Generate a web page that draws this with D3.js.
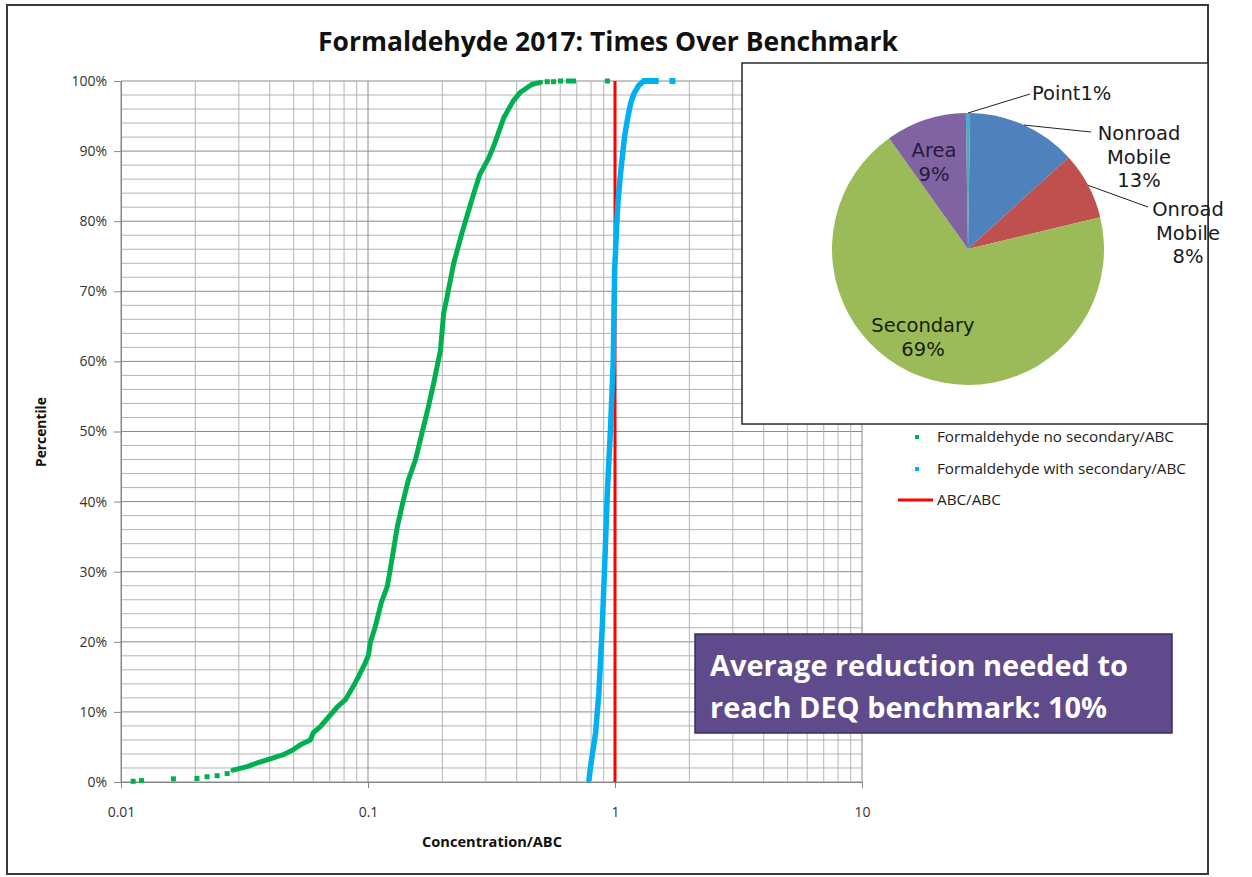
<!DOCTYPE html>
<html><head><meta charset="utf-8">
<script src="https://cdn.jsdelivr.net/npm/d3@7"></script>
<style>
html,body{margin:0;padding:0;background:#fff;}
svg{display:block;font-family:"Open Sans",sans-serif;}
</style></head><body>
<svg id="c" width="1252" height="877"></svg>
<script>
// ---------- data ----------
const titleText = "Formaldehyde 2017: Times Over Benchmark";
const xTitle = "Concentration/ABC";
const yTitle = "Percentile";
const xTickValues = [0.01, 0.1, 1, 10];
const xTickLabels = ["0.01", "0.1", "1", "10"];
const yTickValues = [0, 10, 20, 30, 40, 50, 60, 70, 80, 90, 100];
const yTickLabels = ["0%", "10%", "20%", "30%", "40%", "50%", "60%", "70%", "80%", "90%", "100%"];

// Formaldehyde no secondary/ABC (green) - low tail (separate dots)
const greenTailX = [0.0112, 0.0121, 0.0163, 0.0203, 0.0223, 0.0245, 0.0269];
const greenTailP = [0.1, 0.2, 0.45, 0.5, 0.75, 0.9, 1.2];
// main continuous body
const greenX = [0.0284, 0.0324, 0.0359, 0.0402, 0.0454, 0.0498, 0.0532, 0.0584, 0.0600, 0.0641,
  0.0690, 0.0751, 0.0809, 0.0864, 0.0914, 0.0975, 0.1003, 0.1022, 0.1071, 0.1132,
  0.1197, 0.1240, 0.1314, 0.1390, 0.1457, 0.1555, 0.1629, 0.1755, 0.1845, 0.1965,
  0.2025, 0.2090, 0.2223, 0.2400, 0.2640, 0.2830, 0.3080, 0.3250, 0.3550, 0.3880,
  0.4143, 0.4600, 0.4994];
const greenP = [1.7, 2.2, 2.75, 3.3, 3.9, 4.6, 5.3, 6.0, 7.0, 7.9,
  9.2, 10.7, 11.7, 13.4, 15.0, 17.0, 18.0, 19.9, 22.2, 25.6,
  27.9, 31.0, 36.4, 40.2, 43.1, 45.9, 48.8, 53.5, 56.9, 61.6,
  66.9, 69.2, 74.0, 78.3, 83.2, 86.6, 89.0, 91.0, 94.8, 97.2,
  98.4, 99.5, 99.8];
// top outliers
const greenTopX = [0.5316, 0.5638, 0.6019, 0.6484, 0.6795, 0.931];
const greenTopP = [99.9, 99.9, 100, 100, 100, 100];

// Formaldehyde with secondary/ABC (blue)
const blueX = [0.7839, 0.8037, 0.8344, 0.8604, 0.8882, 0.9101, 0.9307, 0.9598, 0.9843, 0.9963,
  1.0056, 1.0150, 1.0275, 1.0469, 1.0706, 1.0937, 1.1215, 1.1567, 1.1929, 1.2500, 1.2900];
const blueP = [0.3, 3.2, 7.0, 12.7, 22.2, 31.7, 41.2, 50.7, 60.2, 73.0,
  75.9, 79.2, 82.6, 85.9, 89.2, 92.1, 94.4, 96.8, 98.2, 99.4, 99.8];
const blueTopX = [1.32, 1.368, 1.41, 1.461, 1.708];
const blueTopP = [100, 100, 100, 100, 100];

// ABC/ABC benchmark
const benchX = [1, 1];
const benchP = [0, 100];

const legendLabels = ["Formaldehyde no secondary/ABC", "Formaldehyde with secondary/ABC", "ABC/ABC"];
const seriesColors = ["#00B050", "#00B0F0", "#FF0000"];

// inset pie
const pieCategories = ["Point", "Nonroad Mobile", "Onroad Mobile", "Secondary", "Area"];
const pieValues = [0.5, 13.0, 8.0, 68.9, 9.6];
const pieLabelLines = [["Point1%"], ["Nonroad", "Mobile", "13%"], ["Onroad", "Mobile", "8%"], ["Secondary", "69%"], ["Area", "9%"]];
const pieColors = ["#4BACC6", "#4F81BD", "#C0504D", "#9BBB59", "#8064A2"];

const noteLines = ["Average reduction needed to", "reach DEQ benchmark: 10%"];

// ---------- drawing ----------
const svg = d3.select("#c");
function fit(sel, w) {
  const cur = sel.node().getComputedTextLength();
  const fs = parseFloat(sel.attr("font-size"));
  sel.attr("font-size", (fs * w / cur).toFixed(2));
}

svg.append("rect").attr("x", 0).attr("y", 0).attr("width", 1252).attr("height", 877).attr("fill", "#fff");
// outer frame
svg.append("rect").attr("x", 7).attr("y", 5).attr("width", 1201).attr("height", 869)
  .attr("fill", "#fff").attr("stroke", "#3a3a3a").attr("stroke-width", 2);

const L = 121, R = 862, T = 81, B = 782;
const x = d3.scaleLog().domain([0.01, 10]).range([L, R]);
const y = d3.scaleLinear().domain([0, 100]).range([B, T]);

// gridlines
const grid = svg.append("g");
const minorY = d3.range(0, 101, 2);
grid.selectAll(".hy").data(minorY).join("line")
  .attr("x1", L).attr("x2", R).attr("y1", d => y(d)).attr("y2", d => y(d))
  .attr("stroke", d => d % 10 === 0 ? "#8a8a8a" : "#b4b4b4").attr("stroke-width", 1);
grid.selectAll(".vx").data(x.ticks()).join("line")
  .attr("x1", d => x(d)).attr("x2", d => x(d)).attr("y1", T).attr("y2", B)
  .attr("stroke", d => xTickValues.some(v => Math.abs(v - d) < 1e-9) ? "#8a8a8a" : "#b4b4b4").attr("stroke-width", 1);

// axes
const yAxis = svg.append("g").attr("transform", `translate(${L},0)`)
  .call(d3.axisLeft(y).tickValues(yTickValues).tickFormat((d, i) => yTickLabels[i]).tickSize(7).tickPadding(7));
const xAxis = svg.append("g").attr("transform", `translate(0,${B})`)
  .call(d3.axisBottom(x).tickValues(xTickValues).tickFormat((d, i) => xTickLabels[i]).tickSize(6).tickPadding(19));
[yAxis, xAxis].forEach(a => {
  a.select(".domain").attr("stroke", "#868686");
  a.selectAll(".tick line").attr("stroke", "#868686");
  a.selectAll(".tick text").attr("fill", "#333").attr("font-size", 14).attr("font-family", "Open Sans");
});

// axis titles
const xt = svg.append("text").attr("x", 492).attr("y", 847).attr("text-anchor", "middle")
  .attr("font-weight", "bold").attr("font-size", 12).attr("fill", "#111").text(xTitle);
fit(xt, 140);
const yt = svg.append("text").attr("transform", "translate(46,432) rotate(-90)").attr("text-anchor", "middle")
  .attr("font-weight", "bold").attr("font-size", 12).attr("fill", "#111").text(yTitle);
fit(yt, 70);

// title
const tt = svg.append("text").attr("x", 608).attr("y", 51).attr("text-anchor", "middle")
  .attr("font-weight", "bold").attr("font-size", 24).attr("fill", "#111").text(titleText);
fit(tt, 580);

// series
const plot = svg.append("g");
const lineGen = d3.line().x(d => x(d[0])).y(d => y(d[1]));
const zip = (a, b) => a.map((v, i) => [v, b[i]]);

function dots(data, color, size) {
  plot.append("g").selectAll("rect").data(data).join("rect")
    .attr("x", d => x(d[0]) - size / 2).attr("y", d => y(d[1]) - size / 2)
    .attr("width", size).attr("height", size).attr("fill", color);
}
// green
plot.append("path").datum(zip(greenX, greenP)).attr("d", lineGen)
  .attr("fill", "none").attr("stroke", seriesColors[0]).attr("stroke-width", 5)
  .attr("stroke-linejoin", "round").attr("stroke-linecap", "round");
dots(zip(greenTailX, greenTailP), seriesColors[0], 5);
dots(zip(greenTopX, greenTopP), seriesColors[0], 5);
// benchmark
plot.append("path").datum(zip(benchX, benchP)).attr("d", lineGen)
  .attr("fill", "none").attr("stroke", seriesColors[2]).attr("stroke-width", 3);
// blue
plot.append("path").datum(zip(blueX, blueP)).attr("d", lineGen)
  .attr("fill", "none").attr("stroke", seriesColors[1]).attr("stroke-width", 5.5)
  .attr("stroke-linejoin", "round").attr("stroke-linecap", "round");
plot.append("path").datum(zip(blueTopX.slice(0, 4), blueTopP.slice(0, 4))).attr("d", lineGen)
  .attr("fill", "none").attr("stroke", seriesColors[1]).attr("stroke-width", 5).attr("stroke-linecap", "round");
dots(zip(blueTopX, blueTopP), seriesColors[1], 6);

// legend
const lg = svg.append("g");
const legY = [437, 469, 500];
lg.append("rect").attr("x", 915).attr("y", legY[0] - 2).attr("width", 4).attr("height", 4).attr("fill", seriesColors[0]);
lg.append("rect").attr("x", 915).attr("y", legY[1] - 2).attr("width", 4).attr("height", 4).attr("fill", seriesColors[1]);
lg.append("line").attr("x1", 898).attr("x2", 933).attr("y1", legY[2]).attr("y2", legY[2])
  .attr("stroke", seriesColors[2]).attr("stroke-width", 3);
const legT = lg.selectAll("text").data(legendLabels).join("text")
  .attr("x", 937).attr("y", (d, i) => legY[i] + 5).attr("font-size", 14).attr("fill", "#222").text(d => d);
{
  const first = d3.select(legT.nodes()[0]);
  fit(first, 237);
  legT.attr("font-size", first.attr("font-size"));
}

// inset pie box
svg.append("rect").attr("x", 742).attr("y", 63).attr("width", 466).attr("height", 361)
  .attr("fill", "#fff").attr("stroke", "#2a2a2a").attr("stroke-width", 1.5);
const cx = 968, cy = 249, r = 136;
const off = -0.9 * Math.PI / 180;
const pie = d3.pie().sort(null).startAngle(off).endAngle(2 * Math.PI + off);
const arcs = pie(pieValues);
const arc = d3.arc().innerRadius(0).outerRadius(r);
const pg = svg.append("g").attr("transform", `translate(${cx},${cy})`);
pg.selectAll("path").data(arcs).join("path").attr("d", arc)
  .attr("fill", (d, i) => pieColors[i]).attr("stroke", "none");

// leader lines (from slice edge midpoint to label)
const leaderEnds = { 0: [62, -155], 1: [123, -117], 2: [180, -42] };
Object.keys(leaderEnds).forEach(k => {
  const a = arcs[k];
  const m = (a.startAngle + a.endAngle) / 2;
  const sx = Math.sin(m) * r, sy = -Math.cos(m) * r;
  pg.append("line").attr("x1", sx).attr("y1", sy).attr("x2", leaderEnds[k][0]).attr("y2", leaderEnds[k][1])
    .attr("stroke", "#222").attr("stroke-width", 1);
});
// labels (one text element per line)
const labelPos = [
  { x: 64, y: -149, anchor: "start", color: "#1a1a1a" },
  { x: 171, y: -109, anchor: "middle", color: "#1a1a1a" },
  { x: 220, y: -33, anchor: "middle", color: "#1a1a1a" },
  { x: -45, y: 83, anchor: "middle", color: "#16230c" },
  { x: -34, y: -92, anchor: "middle", color: "#241a40" }
];
pieLabelLines.forEach((lines, i) => {
  const p = labelPos[i];
  lines.forEach((s, j) => pg.append("text").attr("x", p.x).attr("y", p.y + j * 23.5)
    .attr("text-anchor", p.anchor).attr("font-family", "DejaVu Sans").attr("font-size", 19.5)
    .attr("fill", p.color).text(s));
});

// note box
svg.append("rect").attr("x", 695).attr("y", 634).attr("width", 477).attr("height", 99)
  .attr("fill", "#5F4B8B").attr("stroke", "#3b2e5c").attr("stroke-width", 1.5);
const nt = svg.selectAll(".note").data(noteLines).join("text").attr("class", "note")
  .attr("x", 710).attr("y", (d, i) => 676 + i * 42).attr("font-weight", "bold")
  .attr("font-size", 28).attr("fill", "#fff").text(d => d);
{
  const first = d3.select(nt.nodes()[0]);
  fit(first, 418);
  nt.attr("font-size", first.attr("font-size"));
}
</script>
</body></html>
